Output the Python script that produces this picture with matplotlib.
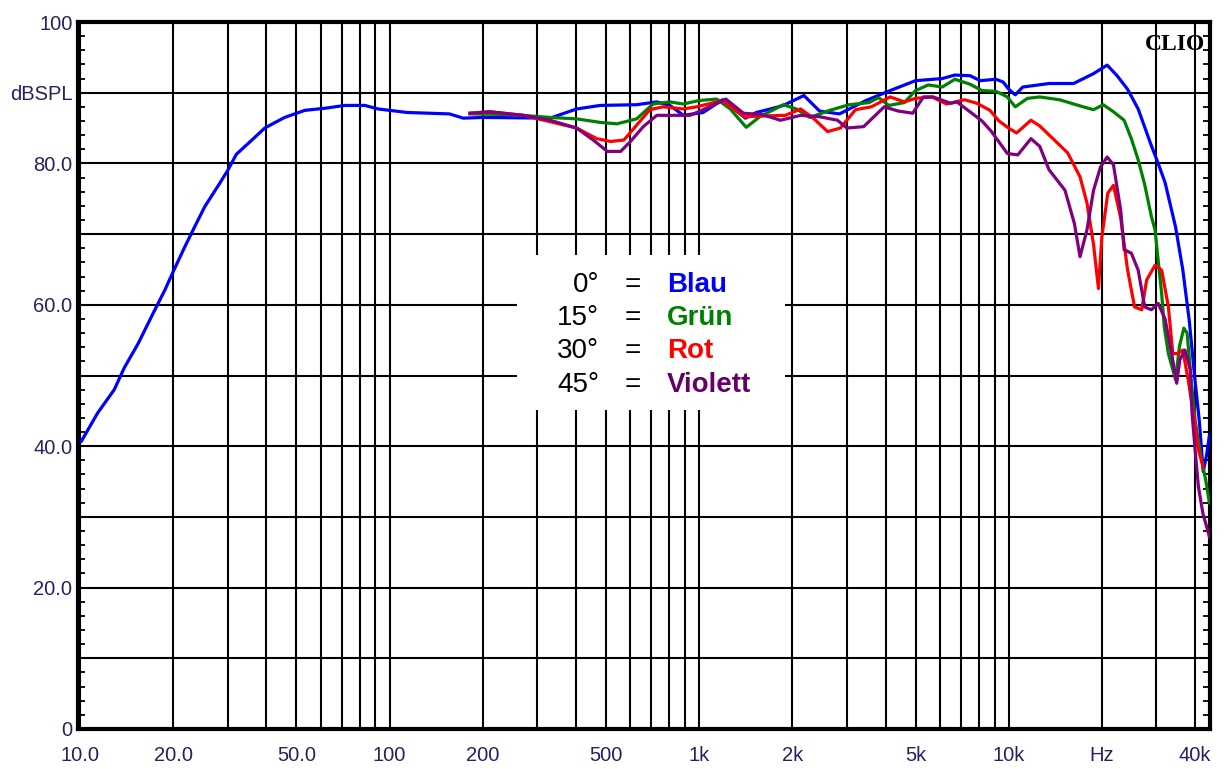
import matplotlib
matplotlib.use("Agg")
import matplotlib.pyplot as plt
from matplotlib.patches import Rectangle
from matplotlib.ticker import FixedLocator, NullFormatter

# frequency response, 0 deg (blue)
blue_f = [10.1, 11.4, 12.9, 13.9, 15.4, 17.0, 18.8, 20.0, 21.8, 23.5, 25.3, 27.9, 29.9,
          32.0, 35.7, 39.5, 45.8, 53.2, 61.8, 71.7, 83.2, 91.8, 114, 156, 173, 200, 330,
          402, 479, 628, 729, 805, 889, 1030, 1190, 1410, 1530, 1700, 1870, 2180, 2450,
          2840, 3460, 4140, 5000, 6100, 6700, 7500, 8100, 9100, 9600, 10000, 10500, 11100,
          13500, 16200, 18800, 20800, 22400, 24200, 26200, 28900, 30400, 32000, 34600,
          36500, 38300, 39800, 41300, 42500, 43600, 44500]
blue_db = [40.7, 44.7, 48.0, 51.1, 54.5, 58.3, 62.1, 64.7, 68.2, 71.1, 73.9, 76.8, 78.9,
           81.3, 83.2, 85.0, 86.5, 87.5, 87.8, 88.2, 88.2, 87.7, 87.2, 87.0, 86.4, 86.5, 86.4,
           87.7, 88.2, 88.3, 88.7, 88.2, 86.8, 87.2, 89.0, 86.4, 87.2, 87.7, 88.2, 89.6, 87.4,
           87.0, 88.9, 90.3, 91.7, 92.0, 92.5, 92.4, 91.7, 91.9, 91.5, 90.5, 89.7, 90.8,
           91.3, 91.3, 92.7, 93.9, 92.4, 90.5, 87.7, 82.5, 80.0, 77.3, 71.0,
           65.0, 57.8, 50.2, 43.5, 36.4, 38.8, 41.5]

# 15 deg (green)
green_f = [182, 250, 330, 402, 479, 543, 628, 710, 805, 889, 1000, 1140, 1260, 1420, 1570,
           1870, 2060, 2280, 2640, 3050, 3540, 3800, 4100, 4600, 5000, 5500, 6100, 6700,
           7500, 8200, 9100, 9900, 10500, 11500, 12600, 14600, 17400, 18800, 20200, 21800,
           23600, 24900, 26200, 27500, 28900, 29700, 30400, 31200, 31800, 32800, 34600,
           35600, 36800, 37700, 38700, 40000, 41600, 43300, 44500]
green_db = [87.0, 86.9, 86.5, 86.3, 85.8, 85.6, 86.3, 88.4, 88.7, 88.4, 88.9, 89.1, 87.7, 85.1, 86.6,
            88.3, 87.7, 86.5, 87.5, 88.3, 88.6, 89.3, 88.2, 88.6, 90.3, 91.1, 90.8, 91.9,
            91.2, 90.3, 90.2, 89.4, 88.0, 89.2, 89.4, 89.0, 88.0, 87.6, 88.3, 87.3,
            86.1, 83.5, 80.5, 77.0, 72.5, 70.6, 66.3, 61.6, 56.9, 53.1, 49.4,
            54.1, 56.7, 56.0, 50.3, 43.7, 39.0, 35.2, 32.0]

# 30 deg (red)
red_f = [182, 211, 270, 330, 402, 467, 518, 571, 628, 693, 764, 889, 980, 1190, 1400, 1600,
         1900, 2130, 2350, 2600, 2860, 3200, 3600, 4140, 4600, 5000, 5650, 6300, 7200, 7900,
         8700, 9300, 10000, 10600, 11800, 12600, 13300, 15500, 17000, 17900, 18800, 19500,
         20000, 20900, 21800, 23000, 24200, 25500, 26900, 27900, 29700, 31200, 32800,
         33900, 35200, 36500, 38000, 39800, 41000, 42500]
red_db = [87.1, 87.3, 86.8, 85.9, 85.0, 83.5, 83.1, 83.3, 85.4, 87.6, 88.0, 87.7, 88.0, 88.9, 86.6, 86.7,
          86.8, 87.7, 86.3, 84.5, 85.0, 87.6, 88.0, 89.4, 88.7, 89.2, 89.4, 88.4, 89.0, 88.5,
          87.5, 86.0, 85.0, 84.3, 86.1, 85.3, 84.3, 81.5, 78.1, 74.4, 68.5, 62.3,
          69.6, 75.8, 76.9, 72.3, 65.0, 59.7, 59.3, 63.5, 65.6, 64.9, 59.7,
          53.1, 53.1, 53.6, 49.4, 43.7, 39.5, 37.0]

# 45 deg (violet)
violet_f = [182, 211, 270, 330, 402, 455, 505, 558, 600, 660, 730, 845, 935, 1030, 1220, 1390,
            1600, 1830, 2130, 2450, 2800, 3000, 3400, 3960, 4400, 4900, 5300, 5700, 6500, 6800,
            7500, 8200, 8800, 9900, 10700, 11800, 12600, 13500, 15200, 16300, 17000, 17900,
            18800, 19800, 20800, 21800, 23000, 23600, 24900, 26200, 27500, 28900, 30400,
            32000, 33600, 34900, 35700, 37100, 38600, 39100, 40100, 41000, 42400, 44500]
violet_db = [87.1, 87.3, 86.8, 86.1, 85.0, 83.3, 81.7, 81.7, 83.1, 85.2, 86.8, 86.8, 86.8, 87.6, 89.1, 87.1,
             86.9, 86.1, 86.8, 86.6, 86.1, 85.0, 85.2, 88.0, 87.4, 87.1, 89.4, 89.4, 88.5, 88.7,
             87.3, 86.0, 84.5, 81.4, 81.2, 83.5, 82.4, 79.1, 76.2, 71.5, 66.8, 70.6,
             76.2, 79.5, 80.9, 79.8, 73.4, 67.8, 67.3, 64.9, 59.7, 59.3, 60.2,
             58.0, 53.1, 48.9, 52.2, 53.6, 50.8, 44.7, 39.0, 34.3, 30.5, 27.2]

x_ticks = [10, 20, 50, 100, 200, 500, 1000, 2000, 5000, 10000, 20000, 40000]
x_labels = ["10.0", "20.0", "50.0", "100", "200", "500", "1k", "2k", "5k", "10k", "Hz", "40k"]
y_ticks = [0, 20, 40, 60, 80, 90, 100]
y_labels = ["0", "20.0", "40.0", "60.0", "80.0", "dBSPL", "100"]

legend_angles = ["0°", "15°", "30°", "45°"]
legend_names = ["Blau", "Grün", "Rot", "Violett"]
legend_colors = ["#0000ff", "#008000", "#ff0000", "#660066"]

plt.rcParams["font.family"] = ["Liberation Sans", "DejaVu Sans"]
label_color = "#2a2060"

fig = plt.figure(figsize=(12.24, 7.69), dpi=100)
ax = fig.add_axes([78 / 1224, 1 - 729 / 769, 1132 / 1224, 707 / 769])
ax.set_xscale("log")
ax.set_xlim(9.85, 44700)
ax.set_ylim(0, 100)

# grid: every 1..9 per decade, every 10 dB
grid_f = [m * 10 ** e for e in range(1, 5) for m in range(1, 10) if m * 10 ** e <= 40000]
for f in grid_f:
    ax.axvline(f, color="black", lw=1.5, zorder=0.5)
for d in range(10, 100, 10):
    ax.axhline(d, color="black", lw=1.5, zorder=0.5)

ax.set_xticks(x_ticks)
ax.set_xticklabels(x_labels)
ax.xaxis.set_minor_locator(FixedLocator([]))
ax.set_yticks(y_ticks)
ax.set_yticklabels(y_labels)
ax.yaxis.set_minor_locator(FixedLocator(list(range(0, 101, 2))))
ax.yaxis.set_minor_formatter(NullFormatter())
ax.tick_params(axis="both", which="major", length=0, labelsize=14.5, labelcolor=label_color)
ax.tick_params(axis="x", pad=12)
ax.tick_params(axis="y", pad=4)
ax.tick_params(axis="y", which="minor", direction="in", length=5, width=1.3,
               left=True, right=True, color="black")
for s in ax.spines.values():
    s.set_linewidth(3)
    s.set_color("black")

# legend box
ax.add_patch(Rectangle((0.388, 0.451), 0.2366, 0.219, transform=ax.transAxes,
                       facecolor="white", edgecolor="none", zorder=1))
rows_y = [0.628, 0.581, 0.535, 0.4866]
for ang, name, col, yy in zip(legend_angles, legend_names, legend_colors, rows_y):
    ax.text(0.4602, yy, ang, transform=ax.transAxes, ha="right", va="center",
            fontsize=20, color="black", zorder=3)
    ax.text(0.490, yy, "=", transform=ax.transAxes, ha="center", va="center",
            fontsize=20, color="black", zorder=3)
    ax.text(0.520, yy, name, transform=ax.transAxes, ha="left", va="center",
            fontsize=20, fontweight="bold", color=col, zorder=3)

ax.plot(blue_f, blue_db, color="#0000ff", lw=2.3, zorder=4)
ax.plot(green_f, green_db, color="#008000", lw=2.3, zorder=5)
ax.plot(red_f, red_db, color="#ff0000", lw=2.3, zorder=6)
ax.plot(violet_f, violet_db, color="#800080", lw=2.3, zorder=7)

ax.text(0.996, 0.983, "CLIO", transform=ax.transAxes, ha="right", va="top",
        fontsize=17, fontweight="bold", family="Liberation Serif", color="black", zorder=8)

fig.savefig("out.png", dpi=100)
